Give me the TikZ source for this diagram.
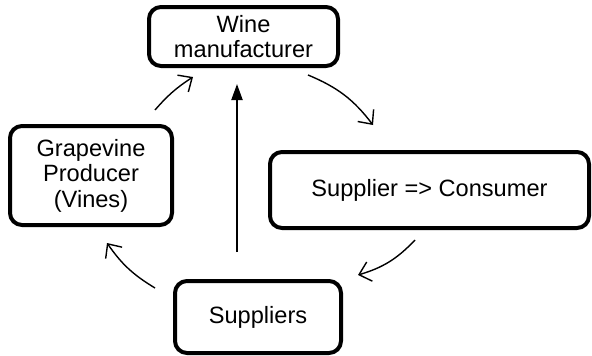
\documentclass[tikz,border=0pt]{standalone}
\usepackage{fontspec}
\setmainfont{Liberation Sans}
\usetikzlibrary{arrows.meta}
\begin{document}
\begin{tikzpicture}[x=1pt,y=-1pt,
  box/.style={draw=black, line width=4pt, rounded corners=12pt, inner sep=0pt, outer sep=0pt, align=center,
    font=\fontsize{23.6}{25.5}\selectfont},
  flow/.style={line width=1.4pt, -{Straight Barb[length=11pt,width=20pt,line width=1.4pt]}},
  mainflow/.style={line width=2pt, -{Triangle[length=16pt,width=11pt]}}]
\useasboundingbox (0,0) rectangle (592,356);
\node[box, minimum width=189pt, minimum height=59pt] (wine) at (243.5,36.5) {Wine\\manufacturer};
\node[box, minimum width=162pt, minimum height=99pt] (grape) at (91,175.5) {Grapevine\\Producer\\(Vines)};
\node[box, minimum width=319pt, minimum height=76pt] (supcon) at (429.5,190) {Supplier => Consumer};
\node[box, minimum width=166pt, minimum height=72pt] (supp) at (258,317) {Suppliers};
\coordinate (a1s) at (155,110);
\coordinate (a1e) at (193,77);
\coordinate (a2s) at (308,75);
\coordinate (a2e) at (373,125);
\coordinate (a3s) at (415,240);
\coordinate (a3e) at (358,275);
\coordinate (a4s) at (155,288);
\coordinate (a4e) at (107,243);
\coordinate (vs) at (237,252);
\coordinate (ve) at (237,84);
\draw[flow] (a1s) to[bend left=8] (a1e);
\draw[flow] (a2s) to[bend left=15] (a2e);
\draw[flow] (a3s) to[bend left=15] (a3e);
\draw[flow] (a4s) to[bend left=12] (a4e);
\draw[mainflow] (vs) -- (ve);
\end{tikzpicture}
\end{document}
